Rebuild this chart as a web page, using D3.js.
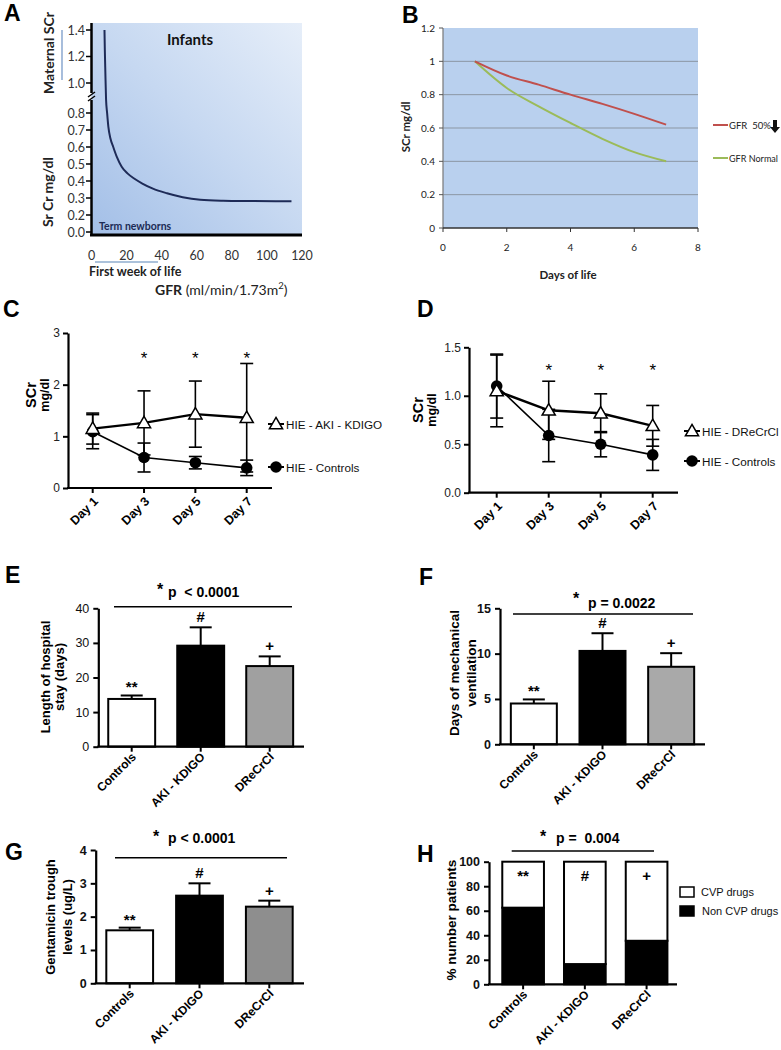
<!DOCTYPE html>
<html><head><meta charset="utf-8">
<script src="https://cdn.jsdelivr.net/npm/d3@7"></script>
<style>body{margin:0;background:#fff}svg{display:block}</style>
</head><body>
<svg id="fig" width="781" height="1050"></svg>
<script>
// ================= DATA =================
// Panel A – conceptual SCr vs GFR curve
const aGFR = [7.4, 7.6, 7.9, 8.3, 8.9, 9.6, 10.8, 12.4, 14.5, 17.2, 20.5, 24.5, 29, 35, 43, 52, 62, 75, 90, 105, 114];
const aSCr = [1.40, 1.25, 1.08, 0.89, 0.80, 0.72, 0.65, 0.60, 0.54, 0.484, 0.445, 0.413, 0.385, 0.355, 0.328, 0.305, 0.29, 0.284, 0.282, 0.281, 0.281];
const aYTicks = [0, 0.2, 0.3, 0.4, 0.5, 0.6, 0.7, 0.8, 1.0, 1.2, 1.4];
const aXTicks = [0, 20, 40, 60, 80, 100, 120];
// Panel B – SCr over days of life
const bDays = [1, 2, 3, 4, 5, 6, 7];
const bGFR50 = [1.0, 0.915, 0.86, 0.80, 0.745, 0.685, 0.62];
const bGFRNormal = [1.0, 0.84, 0.73, 0.63, 0.535, 0.455, 0.40];
const bYTicks = [0, 0.2, 0.4, 0.6, 0.8, 1, 1.2];
const bXTicks = [0, 2, 4, 6, 8];
// Panels C & D
const days = ["Day 1", "Day 3", "Day 5", "Day 7"];
const cAKI = [1.15, 1.26, 1.43, 1.36];
const cAKIsd = [0.30, 0.62, 0.64, 1.05];
const cCtrl = [1.09, 0.59, 0.49, 0.39];
const cCtrlSd = [0.33, 0.28, 0.12, 0.15];
const cYTicks = [0, 1, 2, 3];
const dDRe = [1.05, 0.85, 0.82, 0.69];
const dDReSd = [0.37, 0.30, 0.20, 0.21];
const dCtrl = [1.10, 0.59, 0.50, 0.39];
const dCtrlSd = [0.33, 0.27, 0.13, 0.16];
const dYTicks = [0, 0.5, 1.0, 1.5];
// Panels E–H
const groups = ["Controls", "AKI - KDIGO", "DReCrCl"];
const marks = ["**", "#", "+"];
const eStay = [13.8, 29.2, 23.3];
const eStayErr = [1.0, 5.3, 2.8];
const eYTicks = [0, 10, 20, 30, 40];
const fVent = [4.5, 10.3, 8.55];
const fVentErr = [0.45, 1.95, 1.5];
const fYTicks = [0, 5, 10, 15];
const gGent = [1.59, 2.63, 2.30];
const gGentErr = [0.08, 0.37, 0.18];
const gYTicks = [0, 1, 2, 3, 4];
const hNonCVP = [62.5, 16.5, 35.5];
const hCVP = [37.5, 83.5, 64.5];
const hYTicks = [0, 20, 40, 60, 80, 100];

// ================= DRAWING =================
const svg = d3.select("#fig");
const ARIAL = "'Liberation Sans', Arial, sans-serif";
const CALI = "Lato, 'Open Sans', sans-serif";
svg.append("rect").attr("width", 781).attr("height", 1050).attr("fill", "#fff");
const defs = svg.append("defs");

function txt(g, s, x, y, o = {}) {
  return g.append("text").attr("x", x).attr("y", y).text(s)
    .attr("font-family", o.ff || ARIAL).attr("font-size", o.fs || 12)
    .attr("font-weight", o.fw || "normal").attr("fill", o.fill || "#000")
    .attr("text-anchor", o.anchor || "start");
}
function vtxt(g, s, x, y, o = {}) {
  return txt(g, s, 0, 0, Object.assign({ anchor: "middle" }, o))
    .attr("transform", `translate(${x},${y}) rotate(-90)`);
}
// panel letters
[["A", 4, 21], ["B", 402, 23], ["C", 3, 317], ["D", 417, 317], ["E", 5, 583], ["F", 419, 585], ["G", 5, 860], ["H", 417, 862]]
  .forEach(([l, x, y]) => txt(svg, l, x, y, { fs: 23, fw: "bold" }));

// ---------- Panel A ----------
(function () {
  const g = svg.append("g");
  const x = d3.scaleLinear().domain([0, 120]).range([91.5, 302]);
  const y = d3.scaleLinear().domain([0, 0.2, 0.8, 1.0, 1.4]).range([232, 215, 113, 83, 30]);
  const grad = defs.append("linearGradient").attr("id", "gA")
    .attr("x1", 0).attr("y1", 1).attr("x2", 1).attr("y2", 0);
  grad.append("stop").attr("offset", 0).attr("stop-color", "#a3bfe7");
  grad.append("stop").attr("offset", 0.5).attr("stop-color", "#c6d8f1");
  grad.append("stop").attr("offset", 1).attr("stop-color", "#e6eef9");
  g.append("rect").attr("x", x(0)).attr("y", 23).attr("width", x(120) - x(0)).attr("height", 212).attr("fill", "url(#gA)");
  // curve
  g.append("path").datum(aGFR.map((v, i) => [v, aSCr[i]]))
    .attr("d", d3.line().x(d => x(d[0])).y(d => y(d[1])).curve(d3.curveMonotoneX))
    .attr("fill", "none").attr("stroke", "#1e2b57").attr("stroke-width", 2);
  // left axis with break
  g.append("line").attr("x1", 91.5).attr("x2", 91.5).attr("y1", 23).attr("y2", 93).attr("stroke", "#000").attr("stroke-width", 2.5);
  g.append("line").attr("x1", 91.5).attr("x2", 91.5).attr("y1", 100).attr("y2", 236).attr("stroke", "#000").attr("stroke-width", 2.5);
  g.append("line").attr("x1", 88).attr("x2", 95).attr("y1", 97).attr("y2", 92).attr("stroke", "#000").attr("stroke-width", 1.5);
  g.append("line").attr("x1", 88).attr("x2", 95).attr("y1", 101).attr("y2", 96).attr("stroke", "#000").attr("stroke-width", 1.5);
  g.append("line").attr("x1", 90).attr("x2", 302).attr("y1", 235).attr("y2", 235).attr("stroke", "#000").attr("stroke-width", 3);
  aYTicks.forEach(t => {
    g.append("line").attr("x1", 86).attr("x2", 91.5).attr("y1", y(t)).attr("y2", y(t)).attr("stroke", "#000").attr("stroke-width", 1.5);
    txt(g, t.toFixed(1), 85, y(t) + 4.5, { ff: CALI, fs: 12.5, fill: "#333", anchor: "end" });
  });
  aXTicks.forEach(t => txt(g, String(t), x(t), 260, { ff: CALI, fs: 12.5, fill: "#333", anchor: "middle" }));
  g.append("line").attr("x1", 95).attr("x2", 158).attr("y1", 262).attr("y2", 262).attr("stroke", "#5b86b8").attr("stroke-width", 1.2);
  g.append("line").attr("x1", 62).attr("x2", 62).attr("y1", 30).attr("y2", 80).attr("stroke", "#6d92c4").attr("stroke-width", 1.2);
  vtxt(g, "Maternal SCr", 54, 53, { ff: CALI, fs: 14, fw: "bold", fill: "#222" });
  vtxt(g, "Sr Cr mg/dl", 53, 192, { ff: CALI, fs: 14, fw: "bold", fill: "#222" });
  txt(g, "Infants", 190, 45, { ff: CALI, fs: 15, fw: "bold", fill: "#111", anchor: "middle" });
  txt(g, "Term newborns", 99, 230, { ff: CALI, fs: 10.5, fw: "bold", fill: "#1c2b55" });
  txt(g, "First week of life", 89, 276, { ff: CALI, fs: 12.5, fw: "bold", fill: "#222" });
  const t = txt(g, "", 155, 295, { ff: CALI, fs: 14, fill: "#222" });
  t.append("tspan").attr("font-weight", "bold").text("GFR");
  t.append("tspan").text(" (ml/min/1.73m");
  t.append("tspan").attr("font-size", 9.5).attr("dy", -6).text("2");
  t.append("tspan").attr("dy", 6).text(")");
})();

// ---------- Panel B ----------
(function () {
  const g = svg.append("g");
  const x = d3.scaleLinear().domain([0, 8]).range([443, 698]);
  const y = d3.scaleLinear().domain([0, 1.2]).range([228, 28]);
  g.append("rect").attr("x", x(0)).attr("y", y(1.2)).attr("width", x(8) - x(0)).attr("height", y(0) - y(1.2)).attr("fill", "#b9d0ee");
  bYTicks.filter(t => t > 0 && t < 1.2).forEach(t =>
    g.append("line").attr("x1", x(0)).attr("x2", x(8)).attr("y1", y(t)).attr("y2", y(t)).attr("stroke", "#8b96a3").attr("stroke-width", 1));
  g.append("line").attr("x1", x(0)).attr("x2", x(0)).attr("y1", y(1.2)).attr("y2", y(0)).attr("stroke", "#777").attr("stroke-width", 1.2);
  g.append("line").attr("x1", x(0)).attr("x2", x(8)).attr("y1", y(0)).attr("y2", y(0)).attr("stroke", "#333").attr("stroke-width", 1.5);
  bYTicks.forEach(t => {
    g.append("line").attr("x1", x(0) - 4).attr("x2", x(0)).attr("y1", y(t)).attr("y2", y(t)).attr("stroke", "#555");
    txt(g, String(t), x(0) - 8, y(t) + 3.5, { ff: CALI, fs: 10, fill: "#222", anchor: "end" });
  });
  bXTicks.forEach(t => {
    g.append("line").attr("x1", x(t)).attr("x2", x(t)).attr("y1", y(0)).attr("y2", y(0) + 4).attr("stroke", "#333");
    txt(g, String(t), x(t), 251, { ff: CALI, fs: 10, fill: "#222", anchor: "middle" });
  });
  const ln = d3.line().x((d, i) => x(bDays[i])).y(d => y(d)).curve(d3.curveMonotoneX);
  g.append("path").attr("d", ln(bGFRNormal)).attr("fill", "none").attr("stroke", "#9bbb59").attr("stroke-width", 2);
  g.append("path").attr("d", ln(bGFR50)).attr("fill", "none").attr("stroke", "#c0504d").attr("stroke-width", 2);
  vtxt(g, "SCr mg/dl", 410, 127, { ff: CALI, fs: 11.5, fw: "bold", fill: "#222" });
  txt(g, "Days of life", 568, 279, { ff: CALI, fs: 11.5, fw: "bold", fill: "#222", anchor: "middle" });
  g.append("line").attr("x1", 713).attr("x2", 728).attr("y1", 125).attr("y2", 125).attr("stroke", "#c0504d").attr("stroke-width", 2);
  txt(g, "GFR  50%", 729, 128.5, { ff: CALI, fs: 9.5, fill: "#222" }).style("white-space", "pre");
  g.append("path").attr("d", "M773,120 L777,120 L777,127 L780,127 L775,133 L770,127 L773,127 Z").attr("fill", "#111");
  g.append("line").attr("x1", 713).attr("x2", 728).attr("y1", 158).attr("y2", 158).attr("stroke", "#9bbb59").attr("stroke-width", 2);
  txt(g, "GFR Normal", 729, 161.5, { ff: CALI, fs: 9.5, fill: "#222" }).attr("textLength", 49).attr("lengthAdjust", "spacingAndGlyphs");
})();

// ---------- Panels C & D ----------
function linePanel(o) {
  const g = svg.append("g");
  const y = d3.scaleLinear().domain(o.yDom).range(o.yRange);
  const x = d3.scalePoint().domain(days).range(o.xRange);
  const y0 = o.yRange[0];
  g.append("g").attr("transform", `translate(${o.axisX},0)`)
    .call(d3.axisLeft(y).tickValues(o.ticks).tickFormat(o.fmt).tickSizeInner(5).tickSizeOuter(0).tickPadding(3))
    .call(a => {
      a.attr("font-family", ARIAL).attr("font-size", 12);
      a.select(".domain").attr("stroke-width", 2.2);
      a.selectAll(".tick line").attr("stroke-width", 2);
      a.selectAll(".tick text").attr("fill", "#222");
    });
  g.append("line").attr("x1", o.axisX - 1).attr("x2", o.xEnd).attr("y1", y0).attr("y2", y0).attr("stroke", "#000").attr("stroke-width", 2.2);
  days.forEach(d => {
    g.append("line").attr("x1", x(d)).attr("x2", x(d)).attr("y1", y0).attr("y2", y0 + 5).attr("stroke", "#000").attr("stroke-width", 2);
    txt(g, d, 0, 0, { fs: 12.5, fw: "bold", anchor: "end" }).attr("dy", "0.35em")
      .attr("transform", `translate(${x(d) + 3},${y0 + 11}) rotate(-45)`);
  });
  // error bars
  [[o.s1, o.s1sd], [o.s2, o.s2sd]].forEach(([m, sd]) => {
    m.forEach((v, i) => {
      const cx = x(days[i]);
      g.append("line").attr("x1", cx).attr("x2", cx).attr("y1", y(v + sd[i])).attr("y2", y(v - sd[i])).attr("stroke", "#000").attr("stroke-width", 1.6);
      [v + sd[i], v - sd[i]].forEach(e => g.append("line").attr("x1", cx - 6.5).attr("x2", cx + 6.5).attr("y1", y(e)).attr("y2", y(e)).attr("stroke", "#000").attr("stroke-width", 1.6));
    });
  });
  const ln = d3.line().x((d, i) => x(days[i])).y(d => y(d));
  g.append("path").attr("d", ln(o.s2)).attr("fill", "none").attr("stroke", "#000").attr("stroke-width", 1.6);
  g.append("path").attr("d", ln(o.s1)).attr("fill", "none").attr("stroke", "#000").attr("stroke-width", 2.4);
  const tri = d3.symbol(d3.symbolTriangle, 75)();
  o.s2.forEach((v, i) => g.append("circle").attr("cx", x(days[i])).attr("cy", y(v)).attr("r", 5.8).attr("fill", "#000"));
  o.s1.forEach((v, i) => g.append("path").attr("d", tri).attr("transform", `translate(${x(days[i])},${y(v) + 1})`).attr("fill", "#fff").attr("stroke", "#000").attr("stroke-width", 1.5));
  days.slice(1).forEach(d => txt(g, "*", x(d), o.starY, { fs: 17, anchor: "middle" }));
  // y label
  vtxt(g, "SCr", o.labX1, o.labY, { fs: 14.5, fw: "bold" });
  vtxt(g, "mg/dl", o.labX2, o.labY, { fs: 12.5, fw: "bold" });
  // legend
  g.append("line").attr("x1", o.legX).attr("x2", o.legX + 16).attr("y1", o.legY1).attr("y2", o.legY1).attr("stroke", "#000").attr("stroke-width", 2);
  g.append("path").attr("d", tri).attr("transform", `translate(${o.legX + 8},${o.legY1 + 1})`).attr("fill", "#fff").attr("stroke", "#000").attr("stroke-width", 1.5);
  txt(g, o.name1, o.legX + 18, o.legY1 + 4.5, { fs: 11.7, fill: "#111" });
  g.append("line").attr("x1", o.legX).attr("x2", o.legX + 16).attr("y1", o.legY2).attr("y2", o.legY2).attr("stroke", "#000").attr("stroke-width", 2);
  g.append("circle").attr("cx", o.legX + 8).attr("cy", o.legY2).attr("r", 5.8).attr("fill", "#000");
  txt(g, "HIE - Controls", o.legX + 18, o.legY2 + 4.5, { fs: 11.7, fill: "#111" });
}
linePanel({ yDom: [0, 3], yRange: [488, 333], xRange: [92.7, 246.7], axisX: 68, xEnd: 272, ticks: cYTicks, fmt: d3.format("d"),
  s1: cAKI, s1sd: cAKIsd, s2: cCtrl, s2sd: cCtrlSd, starY: 364, labX1: 36, labX2: 49, labY: 395,
  legX: 268, legY1: 424, legY2: 467, name1: "HIE - AKI - KDIGO" });
linePanel({ yDom: [0, 1.5], yRange: [492.7, 347.3], xRange: [496.7, 652.7], axisX: 469, xEnd: 678, ticks: dYTicks, fmt: d3.format(".1f"),
  s1: dDRe, s1sd: dDReSd, s2: dCtrl, s2sd: dCtrlSd, starY: 376, labX1: 423, labX2: 436, labY: 410,
  legX: 684, legY1: 431, legY2: 461, name1: "HIE - DReCrCl" });

// ---------- Bar panels ----------
function barPanel(o) {
  const g = svg.append("g");
  const y = d3.scaleLinear().domain(o.yDom).range(o.yRange);
  const x = d3.scaleBand().domain(groups).range(o.xRange).paddingInner(o.pi).paddingOuter(o.po);
  const y0 = o.yRange[0];
  g.append("g").attr("transform", `translate(${o.axisX},0)`)
    .call(d3.axisLeft(y).tickValues(o.ticks).tickFormat(d3.format("d")).tickSizeInner(5).tickSizeOuter(0).tickPadding(4))
    .call(a => {
      a.attr("font-family", ARIAL).attr("font-size", 12.5).attr("font-weight", o.boldTicks ? "bold" : "normal");
      a.select(".domain").attr("stroke-width", 2.2);
      a.selectAll(".tick line").attr("stroke-width", 2);
      a.selectAll(".tick text").attr("fill", "#111");
    });
  // bars
  if (o.stack) {
    groups.forEach((c, i) => {
      g.append("rect").attr("x", x(c)).attr("width", x.bandwidth()).attr("y", y(o.vals[i])).attr("height", y0 - y(o.vals[i])).attr("fill", "#000").attr("stroke", "#000").attr("stroke-width", 2);
      g.append("rect").attr("x", x(c)).attr("width", x.bandwidth()).attr("y", y(o.vals[i] + o.stack[i])).attr("height", y(o.vals[i]) - y(o.vals[i] + o.stack[i])).attr("fill", "#fff").attr("stroke", "#000").attr("stroke-width", 2);
      txt(g, marks[i], x(c) + x.bandwidth() / 2, y(100) + 19, { fs: 15, fw: "bold", anchor: "middle" });
    });
  } else {
    groups.forEach((c, i) => {
      const cx = x(c) + x.bandwidth() / 2;
      const top = o.vals[i] + o.errs[i];
      g.append("line").attr("x1", cx).attr("x2", cx).attr("y1", y(o.vals[i])).attr("y2", y(top)).attr("stroke", "#000").attr("stroke-width", 2);
      g.append("line").attr("x1", cx - 11).attr("x2", cx + 11).attr("y1", y(top)).attr("y2", y(top)).attr("stroke", "#000").attr("stroke-width", 2);
      g.append("rect").attr("x", x(c)).attr("width", x.bandwidth()).attr("y", y(o.vals[i])).attr("height", y0 - y(o.vals[i]))
        .attr("fill", o.colors[i]).attr("stroke", "#000").attr("stroke-width", 2);
      txt(g, marks[i], cx, y(top) - (i === 0 ? 3 : 5), { fs: 15, fw: "bold", anchor: "middle" });
    });
  }
  g.append("line").attr("x1", o.axisX - 1).attr("x2", o.xEnd).attr("y1", y0).attr("y2", y0).attr("stroke", "#000").attr("stroke-width", 2.2);
  groups.forEach(c => {
    const cx = x(c) + x.bandwidth() / 2;
    g.append("line").attr("x1", cx).attr("x2", cx).attr("y1", y0).attr("y2", y0 + 5).attr("stroke", "#000").attr("stroke-width", 2);
    txt(g, c, 0, 0, { fs: 12, fw: "bold", anchor: "end" }).attr("dy", "0.35em")
      .attr("transform", `translate(${cx + 2},${y0 + 8}) rotate(-45)`);
  });
  // significance line and title
  g.append("line").attr("x1", o.lineX[0]).attr("x2", o.lineX[1]).attr("y1", o.lineY).attr("y2", o.lineY).attr("stroke", "#000").attr("stroke-width", 1.6);
  txt(g, "*", o.starX, o.starY, { fs: 16, fw: "bold", anchor: "middle" });
  txt(g, o.title, o.titleX, o.titleY, { fs: 14, fw: "bold" }).style("white-space", "pre");
  // y label
  o.ylab.forEach((s, i) => vtxt(g, s, o.ylabX[i], o.ylabY, { fs: o.ylabFs, fw: "bold" }));
  return { g, x, y };
}
barPanel({ yDom: [0, 40], yRange: [746.7, 608.3], xRange: [97.2, 304.2], pi: 0.32, po: 0.16, axisX: 98.3, xEnd: 304,
  ticks: eYTicks, boldTicks: false, vals: eStay, errs: eStayErr, colors: ["#fff", "#000", "#a0a0a0"],
  lineX: [114, 292], lineY: 606.7, starX: 160, starY: 595, title: "p  < 0.0001", titleX: 168, titleY: 597,
  ylab: ["Length of hospital", "stay (days)"], ylabX: [50, 64], ylabY: 677, ylabFs: 13 });
barPanel({ yDom: [0, 15], yRange: [744.3, 608.3], xRange: [499.5, 705.5], pi: 0.33, po: 0.165, axisX: 500, xEnd: 705,
  ticks: fYTicks, boldTicks: true, vals: fVent, errs: fVentErr, colors: ["#fff", "#000", "#a9a9a9"],
  lineX: [513, 693], lineY: 614, starX: 576, starY: 604, title: "p = 0.0022", titleX: 588, titleY: 608,
  ylab: ["Days of mechanical", "ventilation"], ylabX: [459, 476], ylabY: 673, ylabFs: 13.5 });
barPanel({ yDom: [0, 4], yRange: [983.3, 850], xRange: [94.8, 304.2], pi: 0.33, po: 0.165, axisX: 95.7, xEnd: 304,
  ticks: gYTicks, boldTicks: true, vals: gGent, errs: gGentErr, colors: ["#fff", "#000", "#8e8e8e"],
  lineX: [115, 287], lineY: 857.7, starX: 156, starY: 842, title: "p < 0.0001", titleX: 168, titleY: 843,
  ylab: ["Gentamicin trough", "levels (ug/L)"], ylabX: [55, 72], ylabY: 917, ylabFs: 13 });
const h = barPanel({ yDom: [0, 100], yRange: [984.3, 861.7], xRange: [492.4, 677.3], pi: 0.325, po: 0.16, axisX: 489, xEnd: 677,
  ticks: hYTicks, boldTicks: true, vals: hNonCVP, stack: hCVP,
  lineX: [511.7, 654], lineY: 851, starX: 543, starY: 842, title: "p =  0.004", titleX: 556, titleY: 843,
  ylab: ["% number patients"], ylabX: [456], ylabY: 920, ylabFs: 13.5 });
// H legend
h.g.append("rect").attr("x", 680).attr("y", 887).attr("width", 14).attr("height", 10).attr("fill", "#fff").attr("stroke", "#000").attr("stroke-width", 1.5);
txt(h.g, "CVP drugs", 701, 896, { fs: 11, fill: "#111" });
h.g.append("rect").attr("x", 680).attr("y", 906).attr("width", 14).attr("height", 10).attr("fill", "#000").attr("stroke", "#000").attr("stroke-width", 1.5);
txt(h.g, "Non CVP drugs", 702, 915, { fs: 11, fill: "#111" });
</script>
</body></html>
